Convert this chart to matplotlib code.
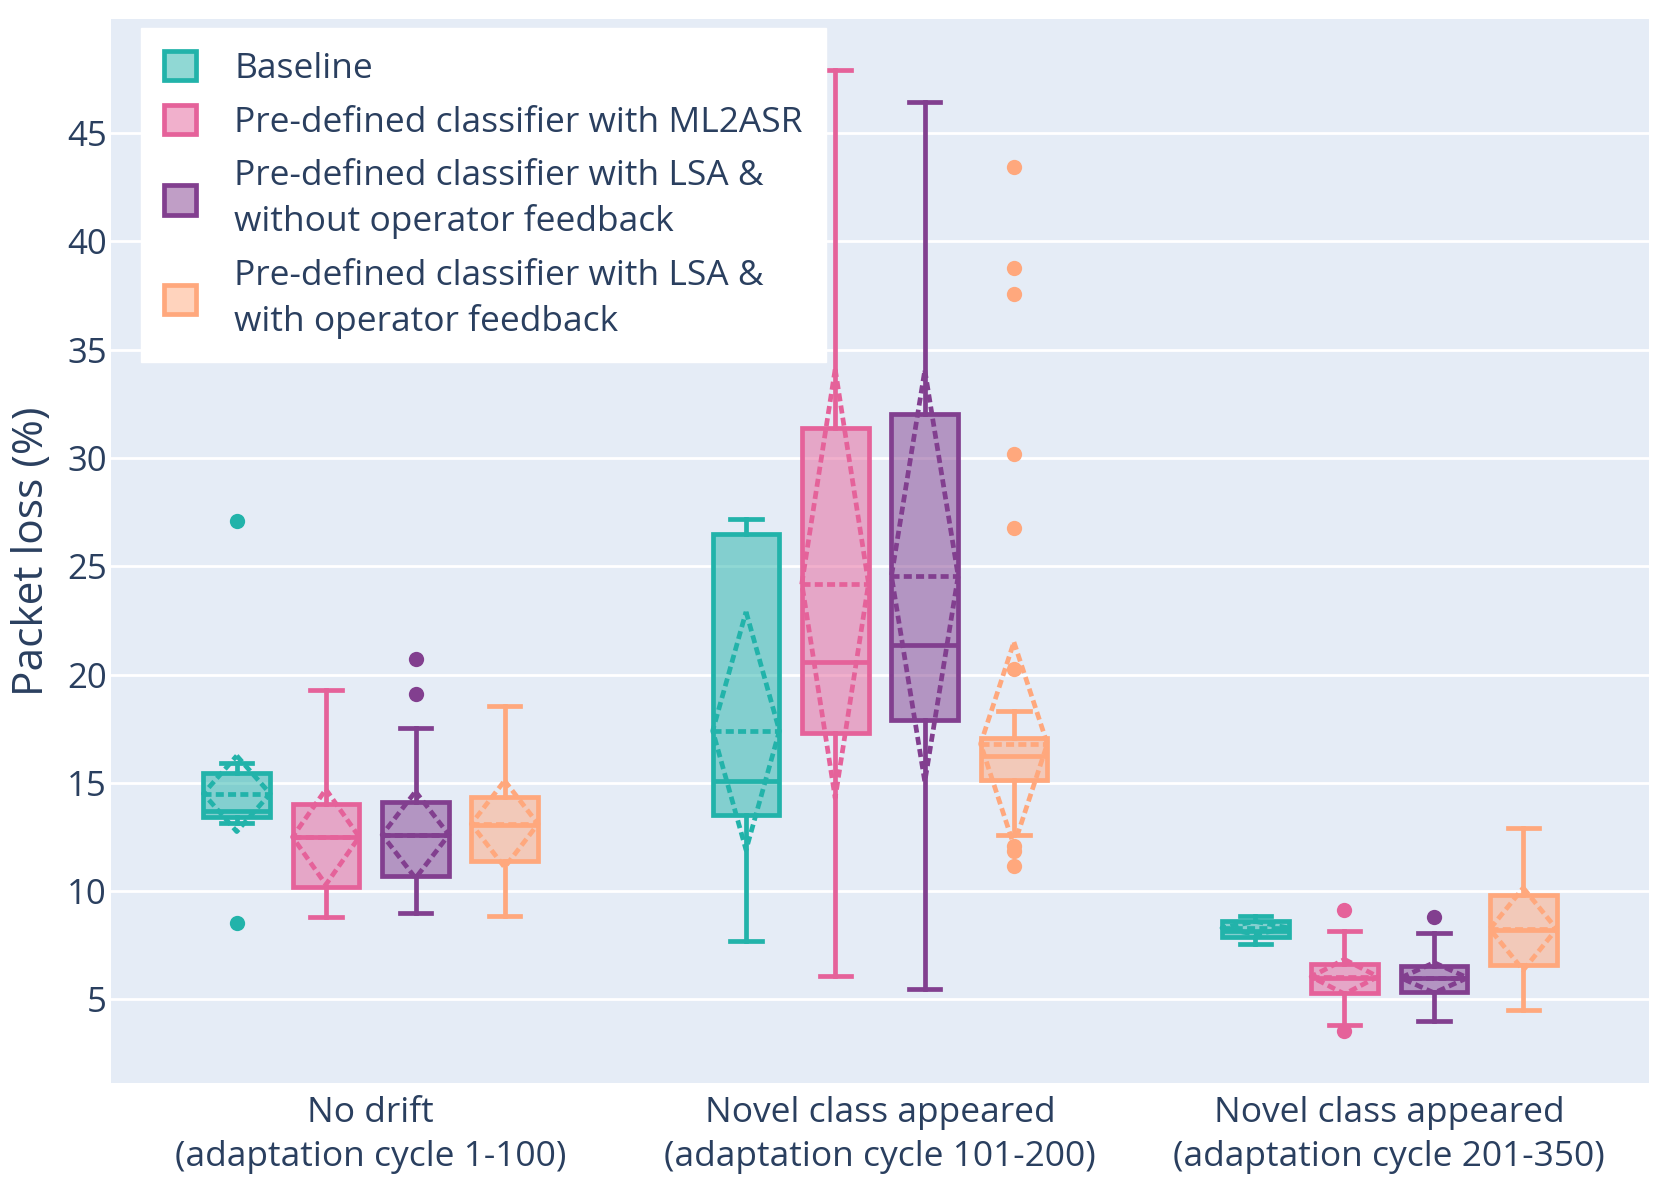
import matplotlib
matplotlib.use("Agg")
import matplotlib.pyplot as plt
from matplotlib.patches import Patch
import matplotlib.colors as mcolors

plt.rcParams['font.family'] = ['Open Sans', 'DejaVu Sans']

# Categories (x axis)
categories = ["No drift\n(adaptation cycle 1-100)",
              "Novel class appeared\n(adaptation cycle 101-200)",
              "Novel class appeared\n(adaptation cycle 201-350)"]

names = ["Baseline",
         "Pre-defined classifier with ML2ASR",
         "Pre-defined classifier with LSA &\nwithout operator feedback",
         "Pre-defined classifier with LSA &\nwith operator feedback"]
colors = ["#22b3aa", "#e5629a", "#823f8f", "#ffa87d"]

# box stats, one value per category
baseline_q1 = [13.4, 13.5, 7.9]
baseline_med = [13.7, 15.1, 8.15]
baseline_q3 = [15.45, 26.5, 8.6]
baseline_lo = [13.15, 7.7, 7.55]
baseline_hi = [15.9, 27.2, 8.85]
baseline_mean = [14.5, 17.4, 8.3]
baseline_sd = [1.75, 5.5, 0.3]
baseline_out = [[27.1, 8.55], [], []]

ml2asr_q1 = [10.2, 17.3, 5.3]
ml2asr_med = [12.5, 20.6, 6.0]
ml2asr_q3 = [14.0, 31.4, 6.65]
ml2asr_lo = [8.8, 6.1, 3.8]
ml2asr_hi = [19.3, 47.9, 8.15]
ml2asr_mean = [12.5, 24.2, 6.05]
ml2asr_sd = [2.2, 9.9, 0.8]
ml2asr_out = [[], [], [9.15, 3.55]]

lsa_nofb_q1 = [10.7, 17.9, 5.35]
lsa_nofb_med = [12.6, 21.35, 6.0]
lsa_nofb_q3 = [14.1, 32.05, 6.55]
lsa_nofb_lo = [9.0, 5.5, 4.0]
lsa_nofb_hi = [17.55, 46.45, 8.05]
lsa_nofb_mean = [12.6, 24.55, 6.0]
lsa_nofb_sd = [2.0, 9.5, 0.7]
lsa_nofb_out = [[20.7, 19.1], [], [8.8]]

lsa_fb_q1 = [11.4, 15.15, 6.6]
lsa_fb_med = [13.05, 16.25, 8.2]
lsa_fb_q3 = [14.35, 17.05, 9.8]
lsa_fb_lo = [8.85, 12.6, 4.5]
lsa_fb_hi = [18.55, 18.3, 12.9]
lsa_fb_mean = [13.1, 16.8, 8.25]
lsa_fb_sd = [2.0, 4.7, 1.9]
lsa_fb_out = [[], [43.45, 38.75, 37.55, 30.2, 26.75, 20.25, 12.1, 11.85, 11.15], []]

series = [
    (baseline_q1, baseline_med, baseline_q3, baseline_lo, baseline_hi, baseline_mean, baseline_sd, baseline_out),
    (ml2asr_q1, ml2asr_med, ml2asr_q3, ml2asr_lo, ml2asr_hi, ml2asr_mean, ml2asr_sd, ml2asr_out),
    (lsa_nofb_q1, lsa_nofb_med, lsa_nofb_q3, lsa_nofb_lo, lsa_nofb_hi, lsa_nofb_mean, lsa_nofb_sd, lsa_nofb_out),
    (lsa_fb_q1, lsa_fb_med, lsa_fb_q3, lsa_fb_lo, lsa_fb_hi, lsa_fb_mean, lsa_fb_sd, lsa_fb_out),
]

text_color = "#2a3f5f"
offsets = [-0.263, -0.088, 0.088, 0.263]
width = 0.131
lw = 3.4
dash = (0, (1.7, 0.9))

fig = plt.figure(figsize=(16.61, 11.90), dpi=100)
ax = fig.add_axes([0.0668, 0.0899, 0.926, 0.894])
ax.set_facecolor("#e5ecf6")
ax.grid(axis='y', color='white', linewidth=2)
ax.set_axisbelow(True)
for s in ax.spines.values():
    s.set_visible(False)

for k, (q1, med, q3, lo, hi, mean, sd, out) in enumerate(series):
    c = colors[k]
    pos = [i + offsets[k] for i in range(len(categories))]
    stats = []
    for i in range(len(categories)):
        stats.append(dict(q1=q1[i], med=med[i], q3=q3[i], whislo=lo[i], whishi=hi[i], fliers=out[i]))
    ax.bxp(stats, positions=pos, widths=width, capwidths=width * 0.47, patch_artist=True,
           manage_ticks=False,
           boxprops=dict(facecolor=mcolors.to_rgba(c, 0.5), edgecolor=c, linewidth=lw),
           medianprops=dict(color=c, linewidth=lw),
           whiskerprops=dict(color=c, linewidth=lw),
           capprops=dict(color=c, linewidth=lw),
           flierprops=dict(marker='o', markerfacecolor=c, markeredgecolor='none', markersize=11))
    # mean line and sd diamond (dashed)
    for i in range(len(categories)):
        x = pos[i]
        ax.plot([x - width / 2, x + width / 2], [mean[i], mean[i]], color=c, lw=lw, linestyle=dash)
        ax.plot([x, x + width / 2, x, x - width / 2, x],
                [mean[i] + sd[i], mean[i], mean[i] - sd[i], mean[i], mean[i] + sd[i]],
                color=c, lw=lw, linestyle=dash)

ax.set_xlim(-0.51, 2.51)
ax.set_ylim(1.14, 50.26)
ax.set_xticks(range(len(categories)))
ax.set_xticklabels(categories, fontsize=25.5, color=text_color, linespacing=1.4)
ax.set_yticks(range(5, 50, 5))
ax.tick_params(axis='y', labelsize=25, labelcolor=text_color, length=0, pad=3)
ax.tick_params(axis='x', length=0, pad=9)
ax.set_ylabel("Packet loss (%)", fontsize=30.5, color=text_color, labelpad=10)

handles = [Patch(facecolor=mcolors.to_rgba(c, 0.5), edgecolor=c, linewidth=lw) for c in colors]
leg = ax.legend(handles, names, loc='upper left', bbox_to_anchor=(0.0193, 0.992), borderaxespad=0,
                fontsize=25.5, frameon=True, fancybox=False, framealpha=1, edgecolor='white',
                handlelength=0.9, handleheight=0.9, handletextpad=1.1, labelspacing=0.55,
                borderpad=0.65)
for t in leg.get_texts():
    t.set_color(text_color)
    t.set_linespacing(1.4)

plt.savefig("out.png")
